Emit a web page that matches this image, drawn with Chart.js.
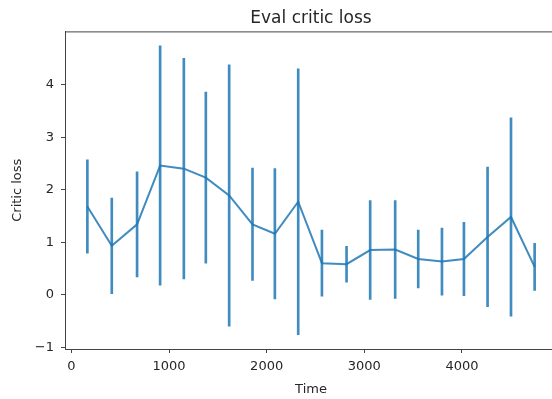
<!DOCTYPE html>
<html>
<head>
<meta charset="utf-8">
<script src="https://cdn.jsdelivr.net/npm/chart.js@4"></script>
<style>
html, body { margin: 0; padding: 0; background: #fff; overflow: hidden; }
</style>
</head>
<body>
<canvas id="lossChart" width="562" height="399"></canvas>
<script>

// eval critic loss, mean +/- std per eval step
const times = [164, 414, 673, 909, 1152, 1377, 1616, 1855, 2084, 2323,
    2566, 2818, 3060, 3316, 3552, 3795, 4020, 4262, 4502, 4744];
const meanLoss = [1.68, 0.93, 1.34, 2.46, 2.40, 2.23, 1.89, 1.34, 1.16, 1.77,
    0.60, 0.58, 0.85, 0.86, 0.68, 0.63, 0.68, 1.10, 1.48, 0.53];
const stdLoss = [0.89, 0.91, 1.00, 2.28, 2.10, 1.63, 2.49, 1.07, 1.24, 2.53,
    0.63, 0.34, 0.94, 0.93, 0.55, 0.64, 0.70, 1.33, 1.89, 0.45];
const xTicks = [0, 1000, 2000, 3000, 4000];
const yTicks = [-1, 0, 1, 2, 3, 4];

const lineColor = 'rgba(31, 119, 180, 0.85)';
const axisColor = '#444';
const textColor = '#262626';
const fontFamily = "'DejaVu Sans', sans-serif";

const errorBars = times.map((t, i) => ({x: t, y: [meanLoss[i] - stdLoss[i], meanLoss[i] + stdLoss[i]]}));
const meanPoints = times.map((t, i) => ({x: t, y: meanLoss[i]}));

// top/right spines like matplotlib
const frameBox = {
    id: 'frameBox',
    afterDraw(chart) {
        const {ctx, chartArea} = chart;
        ctx.save();
        ctx.strokeStyle = axisColor;
        ctx.lineWidth = 1;
        ctx.beginPath();
        ctx.moveTo(chartArea.left, chartArea.top + 0.5);
        ctx.lineTo(chartArea.right, chartArea.top + 0.5);
        ctx.lineTo(chartArea.right - 0.5, chartArea.bottom);
        ctx.stroke();
        ctx.restore();
    }
};

const myChart = new Chart(document.getElementById('lossChart'), {
    type: 'bar',
    data: {
        datasets: [
            {
                type: 'line',
                label: 'mean',
                data: meanPoints,
                borderColor: lineColor,
                borderWidth: 2,
                pointRadius: 0,
                tension: 0,
                order: 0
            },
            {
                type: 'bar',
                label: 'std',
                data: errorBars,
                backgroundColor: lineColor,
                borderWidth: 0,
                barThickness: 2,
                order: 1
            }
        ]
    },
    options: {
        responsive: false,
        animation: false,
        layout: { padding: { left: 0, right: 5, top: 0, bottom: 0 } },
        plugins: {
            legend: { display: false },
            tooltip: { enabled: false },
            title: {
                display: true,
                text: 'Eval critic loss',
                fullSize: false,
                color: textColor,
                font: { family: fontFamily, size: 17, weight: 'normal' },
                padding: { top: 8, bottom: 3 }
            }
        },
        scales: {
            x: {
                type: 'linear',
                offset: false,
                min: -65,
                max: 4973,
                afterBuildTicks: (scale) => { scale.ticks = xTicks.map(v => ({value: v})); },
                afterFit: (scale) => { scale.height = 50; },
                grid: { offset: false, drawOnChartArea: false, drawTicks: true, tickLength: 4, color: axisColor },
                border: { display: true, color: axisColor, width: 1 },
                ticks: {
                    color: textColor,
                    padding: 6,
                    maxRotation: 0,
                    font: { family: fontFamily, size: 13 },
                    callback: (v) => String(v)
                },
                title: {
                    display: true,
                    text: 'Time',
                    color: textColor,
                    font: { family: fontFamily, size: 13 },
                    padding: { top: 2, bottom: 2 }
                }
            },
            y: {
                min: -1.035,
                max: 5.015,
                afterBuildTicks: (scale) => { scale.ticks = yTicks.map(v => ({value: v})); },
                afterFit: (scale) => { scale.width = 65; },
                grid: { drawOnChartArea: false, drawTicks: true, tickLength: 4, color: axisColor },
                border: { display: true, color: axisColor, width: 1 },
                ticks: {
                    color: textColor,
                    padding: 7,
                    font: { family: fontFamily, size: 13 },
                    callback: (v) => v < 0 ? '\u2212' + Math.abs(v) : String(v)
                },
                title: {
                    display: true,
                    text: 'Critic loss',
                    color: textColor,
                    font: { family: fontFamily, size: 13 },
                    padding: { top: 10, bottom: 10 }
                }
            }
        }
    },
    plugins: [frameBox]
});
</script>
</body>
</html>
